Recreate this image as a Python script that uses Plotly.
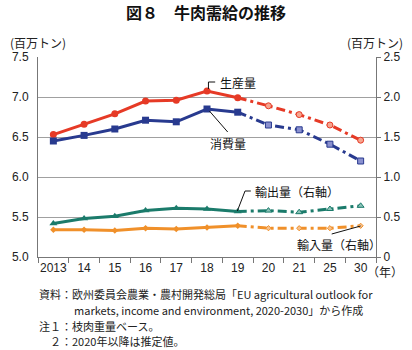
import plotly.graph_objects as go

years = ["2013", "14", "15", "16", "17", "18", "19", "20", "21", "25", "30"]
production = [6.53, 6.66, 6.79, 6.95, 6.96, 7.075, 6.99, 6.89, 6.78, 6.65, 6.46]
consumption = [6.45, 6.52, 6.60, 6.71, 6.69, 6.85, 6.81, 6.65, 6.59, 6.41, 6.20]
exports = [0.42, 0.48, 0.51, 0.58, 0.61, 0.60, 0.57, 0.58, 0.56, 0.60, 0.64]
imports = [0.34, 0.34, 0.33, 0.36, 0.35, 0.37, 0.39, 0.36, 0.36, 0.36, 0.39]
n_actual = 7  # 2013-2019 actual, later estimated

FONT = "Liberation Sans, Noto Sans CJK JP, sans-serif"
JP = "Noto Sans CJK JP, sans-serif"

series = [
    (production, "y", "#e63a26", "#f6a58f", "circle", 7, "生産量"),
    (consumption, "y", "#283a8f", "#8a90cf", "square", 7, "消費量"),
    (exports, "y2", "#1b7b6b", "#8cc3b8", "triangle-up", 7, "輸出量（右軸）"),
    (imports, "y2", "#f0902a", "#f6c18d", "diamond", 5, "輸入量（右軸）"),
]

fig = go.Figure()
for vals, yax, col, light, sym, msz, name in series:
    fig.add_trace(go.Scatter(
        x=years[:n_actual], y=vals[:n_actual], yaxis=yax, mode="lines+markers",
        line=dict(color=col, width=3), marker=dict(symbol=sym, size=msz, color=col),
        showlegend=False, name=name))
    fig.add_trace(go.Scatter(
        x=years[n_actual - 1:], y=vals[n_actual - 1:], yaxis=yax, mode="lines",
        line=dict(color=col, width=3, dash="9px,4px,3px,4px"),
        showlegend=False, name=name))
    fig.add_trace(go.Scatter(
        x=years[n_actual:], y=vals[n_actual:], yaxis=yax, mode="markers",
        marker=dict(symbol=sym, size=msz - 1, color=light, line=dict(color=col, width=1)),
        showlegend=False, name=name))

L, R, T, B = 31, 30, 57, 93
W, H = 412, 350
pw, ph = W - L - R, H - T - B


def px(x):
    return (x - L) / pw


def py(y):
    return (H - B - y) / ph


def txt(text, x, y, xanchor="left", size=12, family=JP, color="#111"):
    return dict(text=text, x=px(x), y=py(y), xref="paper", yref="paper",
                xanchor=xanchor, yanchor="middle", showarrow=False,
                font=dict(size=size, family=family, color=color))


annotations = [
    txt("<b>図８　牛肉需給の推移</b>", 205, 12, "center", 16),
    txt("(百万トン)", 0, 43, "left", 12, JP, "#222"),
    txt("(百万トン)", 412, 43, "right", 12, JP, "#222"),
    txt("（年）", 412, 271, "right", 12, JP, "#222"),
    txt("生産量", 218, 82),
    txt("消費量", 208, 143),
    txt("輸出量（右軸）", 254, 191),
    txt("輸入量（右軸）", 298, 244),
]

foot = [
    (30, 294, "資料：欧州委員会農業・農村開発総局「EU agricultural outlook for"),
    (66, 310, "markets, income and environment, 2020-2030」から作成"),
    (30, 326, "注１：枝肉重量ベース。"),
    (30, 341, "　２：2020年以降は推定値。"),
]
for x0, y0, t in foot:
    annotations.append(txt(t, x0, y0, "left", 11, JP, "#222"))

shapes = [
    dict(type="path", xref="paper", yref="paper", line=dict(color="#111", width=1),
         path=f"M {px(208)} {py(89)} L {px(208)} {py(82)} L {px(215)} {py(82)}"),
    dict(type="line", xref="paper", yref="paper", line=dict(color="#111", width=1),
         x0=px(209), y0=py(111), x1=px(228), y1=py(132)),
    dict(type="path", xref="paper", yref="paper", line=dict(color="#111", width=1),
         path=f"M {px(238)} {py(211)} L {px(246)} {py(191)} L {px(252)} {py(191)}"),
    dict(type="line", xref="paper", yref="paper", line=dict(color="#111", width=1),
         x0=px(336), y0=py(234), x1=px(366), y1=py(226)),
]

fig.update_layout(
    width=W, height=H, margin=dict(l=L, r=R, t=T, b=B),
    paper_bgcolor="white", plot_bgcolor="white",
    font=dict(family=FONT, size=12, color="#222"),
    annotations=annotations, shapes=shapes,
    xaxis=dict(type="category", categoryorder="array", categoryarray=years,
               range=[-0.5, len(years) - 0.5], tickson="boundaries", ticks="outside",
               ticklen=5, tickcolor="#777", showline=True, linecolor="#777", linewidth=1,
               showgrid=False, tickangle=0, tickfont=dict(size=12, family=FONT),
               fixedrange=True),
    yaxis=dict(range=[5.0, 7.5], dtick=0.5, tickformat=".1f", showgrid=True,
               gridcolor="#a0a0a0", gridwidth=1, showline=True, linecolor="#777",
               ticks="", zeroline=False, ticklabelstandoff=6,
               tickfont=dict(size=12, family=FONT)),
    yaxis2=dict(range=[0, 2.5], overlaying="y", side="right",
                tickvals=[0, 0.5, 1.0, 1.5, 2.0, 2.5],
                ticktext=["0", "0.5", "1.0", "1.5", "2.0", "2.5"],
                showgrid=False, showline=True, linecolor="#777", ticks="outside",
                ticklen=4, tickcolor="#777", zeroline=False,
                tickfont=dict(size=12, family=FONT)),
)

fig.write_html("out.html")
